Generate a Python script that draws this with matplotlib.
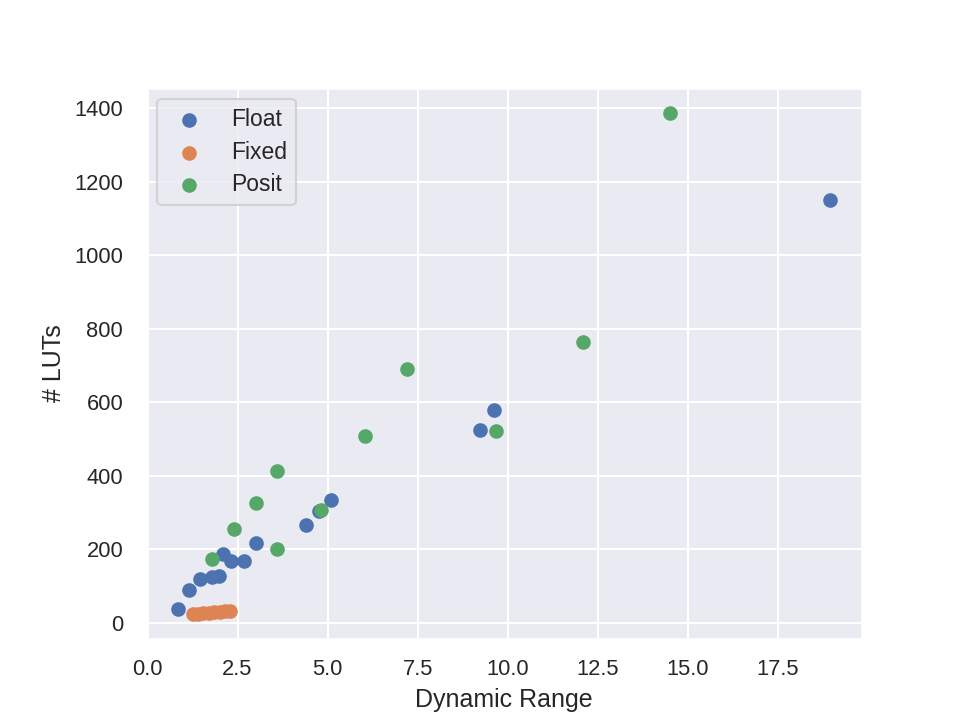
import matplotlib
matplotlib.use("Agg")
import matplotlib.pyplot as plt
import seaborn as sns

float_x = [0.86, 1.14, 1.47, 1.78, 1.98, 2.10, 2.33, 2.68, 3.00, 4.39, 4.77, 5.10, 9.24, 9.61, 18.94]
float_y = [37, 88, 119, 124, 127, 186, 168, 168, 217, 265, 303, 333, 525, 580, 1149]

fixed_x = [1.25, 1.40, 1.55, 1.70, 1.85, 2.00, 2.15, 2.28]
fixed_y = [24, 25, 26, 27, 28, 30, 31, 32]

posit_x = [1.79, 2.41, 3.01, 3.61, 3.61, 4.83, 6.04, 7.22, 9.67, 12.08, 14.52]
posit_y = [173, 256, 325, 413, 202, 307, 509, 690, 522, 765, 1387]

sns.set_theme()
plt.rcParams['font.family'] = ['Liberation Sans', 'DejaVu Sans']
plt.rcParams['xtick.labelsize'] = 10.5
plt.rcParams['ytick.labelsize'] = 10.5
plt.rcParams['ytick.major.pad'] = 4.9
plt.rcParams['legend.fontsize'] = 11

fig = plt.figure(figsize=(6.4, 4.8), dpi=150)
ax = fig.add_axes([0.152, 0.1125, 0.746, 0.7655])
ax.scatter(float_x, float_y, label="Float")
ax.scatter(fixed_x, fixed_y, label="Fixed")
ax.scatter(posit_x, posit_y, label="Posit")
ax.set_xlabel("Dynamic Range")
ax.set_ylabel("# LUTs")
ax.legend(loc="upper left", labelspacing=0.4)
fig.savefig("out.png", dpi=150)
